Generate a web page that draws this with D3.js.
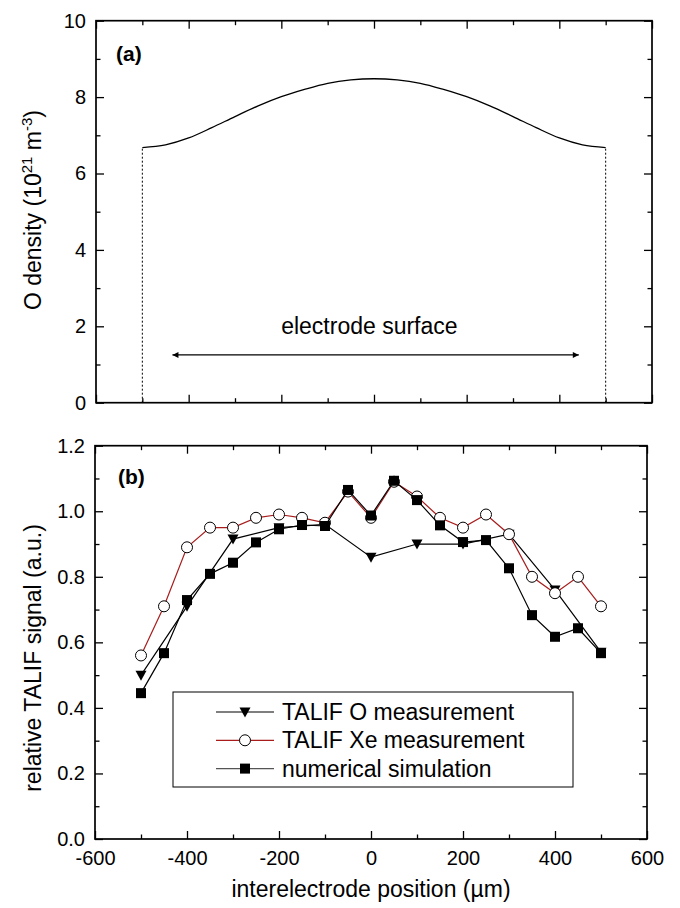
<!DOCTYPE html>
<html lang="en">
<head>
<meta charset="UTF-8">
<title>O density and TALIF signal</title>
<script src="https://d3js.org/d3.v7.min.js"></script>
<style>
  body { margin: 0; background: #fff; font-family: "Liberation Sans", Arial, sans-serif; }
  .tick text { font-family: "Liberation Sans", Arial, sans-serif; font-size: 20px; fill: #000; }
  .tick line { stroke: #000; stroke-width: 1.3px; }
</style>
</head>
<body>
<svg width="680" height="908"></svg>
<script>
// panel (a): simulated O density profile
const densPos = [-500, -450, -400, -350, -300, -250, -200, -150, -100, -50, 0, 50, 100, 150, 200, 250, 300, 350, 400, 450, 500];
const densVal = [6.68, 6.75, 6.93, 7.20, 7.49, 7.77, 8.01, 8.20, 8.36, 8.45, 8.48, 8.45, 8.36, 8.20, 8.01, 7.77, 7.49, 7.20, 6.93, 6.75, 6.68];

// panel (b): relative TALIF signal
const posO = [-500, -400, -300, -200, -100, 0, 100, 200, 300, 400, 500];
const sigO = [0.50, 0.71, 0.915, 0.95, 0.96, 0.86, 0.90, 0.90, 0.93, 0.76, 0.57];
const posFine = [-500, -450, -400, -350, -300, -250, -200, -150, -100, -50, 0, 50, 100, 150, 200, 250, 300, 350, 400, 450, 500];
const sigXe = [0.56, 0.71, 0.89, 0.95, 0.95, 0.98, 0.99, 0.98, 0.965, 1.06, 0.98, 1.09, 1.045, 0.98, 0.95, 0.99, 0.93, 0.80, 0.75, 0.80, 0.71];
const sigSim = [0.445, 0.567, 0.729, 0.809, 0.843, 0.905, 0.945, 0.958, 0.955, 1.065, 0.987, 1.093, 1.034, 0.957, 0.906, 0.912, 0.826, 0.683, 0.617, 0.643, 0.567];

const seriesNames = ["TALIF O measurement", "TALIF Xe measurement", "numerical simulation"];
const xMajor = [-600, -400, -200, 0, 200, 400, 600];
const xMinor = [-500, -300, -100, 100, 300, 500];
const red = "#a81c1c";

const svg = d3.select("svg");

// scales
const xA = d3.scaleLinear().domain([-600, 600]).range([96, 652]);
const yA = d3.scaleLinear().domain([0, 10]).range([402.7, 20.7]);
const xB = d3.scaleLinear().domain([-600, 600]).range([95, 647]);
const yB = d3.scaleLinear().domain([0, 1.2]).range([839, 445.7]);

// draws a framed panel with inward ticks on all four sides
function frame(x, y, yMajor, yMinor, yFmt, xLabels) {
  const g = svg.append("g");
  const [x0, x1] = x.range();
  const [y0, y1] = y.range();
  const maj = 8, mnr = 4.5;

  const addAxis = (axis, tr) => {
    const a = g.append("g").attr("transform", tr).call(axis);
    a.select(".domain").remove();
  };
  // bottom
  addAxis(d3.axisBottom(x).tickValues(xMajor).tickSizeInner(-maj).tickSizeOuter(0).tickPadding(12)
    .tickFormat(xLabels ? (d => String(d)) : ""), `translate(0,${y0})`);
  addAxis(d3.axisBottom(x).tickValues(xMinor).tickSizeInner(-mnr).tickSizeOuter(0).tickFormat(""), `translate(0,${y0})`);
  // top
  addAxis(d3.axisTop(x).tickValues(xMajor).tickSizeInner(-maj).tickSizeOuter(0).tickFormat(""), `translate(0,${y1})`);
  addAxis(d3.axisTop(x).tickValues(xMinor).tickSizeInner(-mnr).tickSizeOuter(0).tickFormat(""), `translate(0,${y1})`);
  // left
  addAxis(d3.axisLeft(y).tickValues(yMajor).tickSizeInner(-maj).tickSizeOuter(0).tickPadding(10).tickFormat(yFmt), `translate(${x0},0)`);
  addAxis(d3.axisLeft(y).tickValues(yMinor).tickSizeInner(-mnr).tickSizeOuter(0).tickFormat(""), `translate(${x0},0)`);
  // right
  addAxis(d3.axisRight(y).tickValues(yMajor).tickSizeInner(-maj).tickSizeOuter(0).tickFormat(""), `translate(${x1},0)`);
  addAxis(d3.axisRight(y).tickValues(yMinor).tickSizeInner(-mnr).tickSizeOuter(0).tickFormat(""), `translate(${x1},0)`);

  g.append("rect")
    .attr("x", x0).attr("y", y1)
    .attr("width", x1 - x0).attr("height", y0 - y1)
    .attr("fill", "none").attr("stroke", "#000").attr("stroke-width", 1.7);
  return g;
}

// ---------- panel (a) ----------
frame(xA, yA, d3.range(0, 11, 2), d3.range(1, 10, 2), d3.format("d"), false);

svg.append("text")
  .attr("x", 116).attr("y", 61)
  .style("font-size", "21px").style("font-weight", "bold")
  .text("(a)");

// dotted edges of the profile
[0, densPos.length - 1].forEach(i => {
  svg.append("line")
    .attr("x1", xA(densPos[i])).attr("x2", xA(densPos[i]))
    .attr("y1", yA(0)).attr("y2", yA(densVal[i]))
    .attr("stroke", "#000").attr("stroke-width", 1).attr("stroke-dasharray", "2,2");
});

svg.append("path")
  .datum(densPos.map((p, i) => [p, densVal[i]]))
  .attr("fill", "none").attr("stroke", "#000").attr("stroke-width", 1.3)
  .attr("d", d3.line().x(d => xA(d[0])).y(d => yA(d[1])).curve(d3.curveMonotoneX));

// electrode surface arrow
const defs = svg.append("defs");
defs.append("marker")
  .attr("id", "arr").attr("viewBox", "0 0 10 10")
  .attr("refX", 10).attr("refY", 5)
  .attr("markerWidth", 12).attr("markerHeight", 6)
  .attr("markerUnits", "userSpaceOnUse")
  .attr("orient", "auto-start-reverse")
  .append("path").attr("d", "M0,0 L10,5 L0,10 Z").attr("fill", "#000");

svg.append("line")
  .attr("x1", xA(-435)).attr("x2", xA(442))
  .attr("y1", yA(1.25)).attr("y2", yA(1.25))
  .attr("stroke", "#000").attr("stroke-width", 1.3)
  .attr("marker-start", "url(#arr)").attr("marker-end", "url(#arr)");

svg.append("text")
  .attr("x", xA(-10)).attr("y", yA(1.8))
  .attr("text-anchor", "middle")
  .style("font-size", "23px")
  .text("electrode surface");

// y title (a)
const tA = svg.append("text")
  .attr("transform", `translate(41,210) rotate(-90)`)
  .attr("text-anchor", "middle")
  .style("font-size", "23px");
tA.append("tspan").text("O density (10");
tA.append("tspan").attr("dy", -9).style("font-size", "15px").text("21");
tA.append("tspan").attr("dy", 9).text(" m");
tA.append("tspan").attr("dy", -9).style("font-size", "15px").text("-3");
tA.append("tspan").attr("dy", 9).text(")");

// ---------- panel (b) ----------
frame(xB, yB, d3.range(0, 7).map(i => i * 0.2), d3.range(0, 6).map(i => i * 0.2 + 0.1), d3.format(".1f"), true);

svg.append("text")
  .attr("x", 118).attr("y", 484)
  .style("font-size", "21px").style("font-weight", "bold")
  .text("(b)");

const lineB = d3.line().x(d => xB(d[0])).y(d => yB(d[1]));
const tri = "M-5.5,-4.5 L5.5,-4.5 L0,5.5 Z";

function drawMarker(sel, kind) {
  if (kind === 0) {
    sel.append("path").attr("d", tri).attr("fill", "#000");
  } else if (kind === 1) {
    sel.append("circle").attr("r", 5.5).attr("fill", "#fff").attr("stroke", "#000").attr("stroke-width", 1);
  } else {
    sel.append("rect").attr("x", -5).attr("y", -5).attr("width", 10).attr("height", 10).attr("fill", "#000");
  }
}

const series = [
  { pos: posO, val: sigO, color: "#000", kind: 0 },
  { pos: posFine, val: sigXe, color: red, kind: 1 },
  { pos: posFine, val: sigSim, color: "#000", kind: 2 }
];

series.forEach(s => {
  const pts = s.pos.map((p, i) => [p, s.val[i]]);
  const g = svg.append("g");
  g.append("path").datum(pts)
    .attr("fill", "none").attr("stroke", s.color).attr("stroke-width", 1.2)
    .attr("d", lineB);
  g.selectAll("g.pt").data(pts).enter().append("g")
    .attr("class", "pt")
    .attr("transform", d => `translate(${xB(d[0])},${yB(d[1])})`)
    .each(function () { drawMarker(d3.select(this), s.kind); });
});

// legend
const legendLine = ["#000", red, "#555"];
const leg = svg.append("g");
leg.append("rect")
  .attr("x", 173).attr("y", 692).attr("width", 400).attr("height", 95)
  .attr("fill", "#fff").attr("stroke", "#000").attr("stroke-width", 1);
seriesNames.forEach((name, i) => {
  const yy = 712 + i * 28.3;
  leg.append("line")
    .attr("x1", 216).attr("x2", 274).attr("y1", yy).attr("y2", yy)
    .attr("stroke", legendLine[i]).attr("stroke-width", 1.2);
  drawMarker(leg.append("g").attr("transform", `translate(245,${yy})`), series[i].kind);
  leg.append("text")
    .attr("x", 282).attr("y", yy + 8)
    .style("font-size", "23px")
    .text(name);
});

// axis titles (b)
svg.append("text")
  .attr("transform", `translate(41,658) rotate(-90)`)
  .attr("text-anchor", "middle")
  .style("font-size", "23px")
  .text("relative TALIF signal (a.u.)");

svg.append("text")
  .attr("x", xB(0)).attr("y", 897)
  .attr("text-anchor", "middle")
  .style("font-size", "23px")
  .text("interelectrode position (\u00b5m)");
</script>
</body>
</html>
